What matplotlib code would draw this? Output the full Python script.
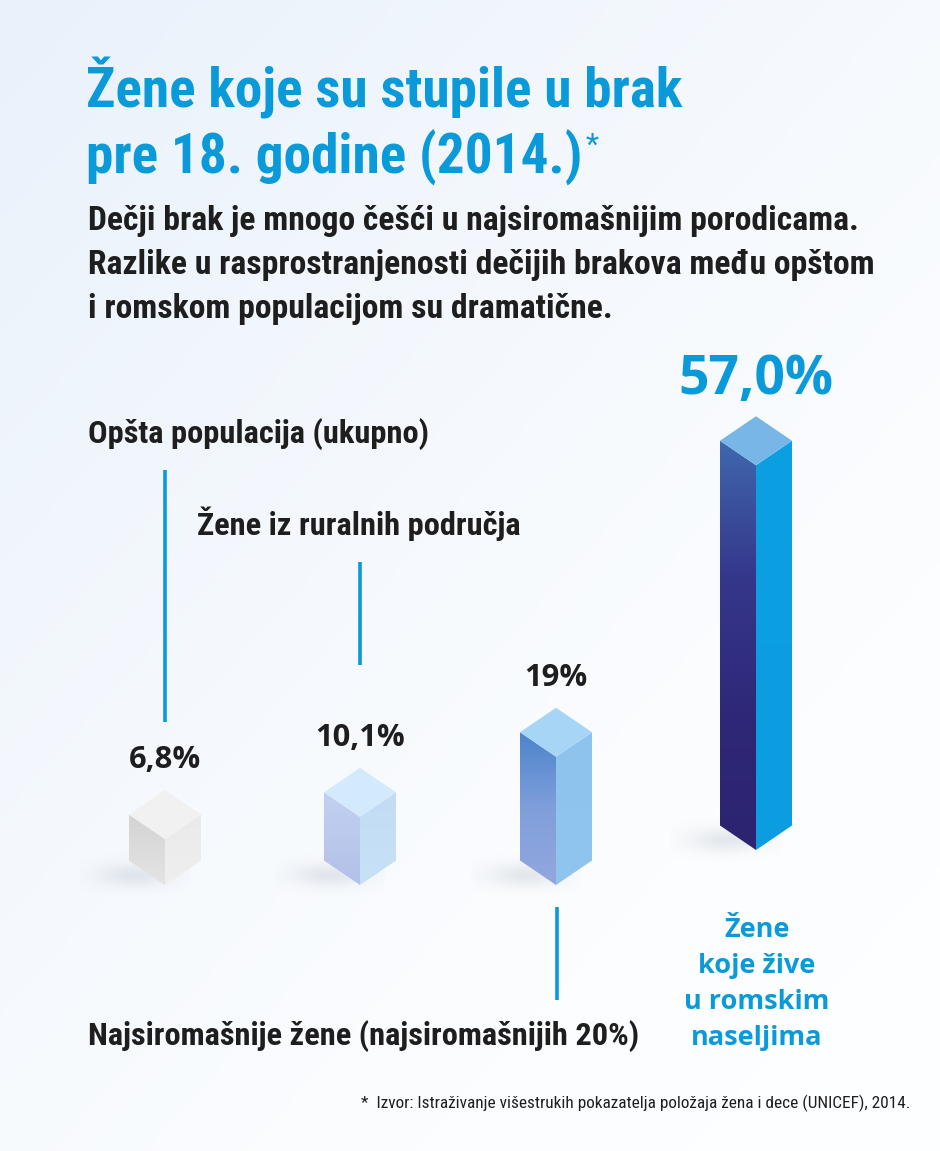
import numpy as np
import matplotlib
matplotlib.use("Agg")
import matplotlib.pyplot as plt
import matplotlib.patheffects as pe
from matplotlib import font_manager
from matplotlib.font_manager import FontProperties
from matplotlib.patches import Polygon
from matplotlib.colors import LinearSegmentedColormap, to_rgb

# data
categories = ["Opšta populacija (ukupno)", "Žene iz ruralnih područja",
              "Najsiromašnije žene (najsiromašnijih 20%)",
              "Žene\nkoje žive\nu romskim\nnaseljima"]
values = [6.8, 10.1, 19.0, 57.0]
value_labels = ["6,8%", "10,1%", "19%", "57,0%"]

title = ["Žene koje su stupile u brak", "pre 18. godine (2014.)"]
subtitle = ["Dečji brak je mnogo češći u najsiromašnijim porodicama.",
            "Razlike u rasprostranjenosti dečijih brakova među opštom",
            "i romskom populacijom su dramatične."]
source = "*  Izvor: Istraživanje višestrukih pokazatelja položaja žena i dece (UNICEF), 2014."

# layout / style
W, H = 940, 1151
BASE = 885          # pixel row of 0 %
S = 6.75            # pixels per percent
bar_x = [165, 360, 556, 756]
bar_lift = [0, 0, 0, 35]
half_w = 36
depth = 24.5
BLUE = "#0b9ad9"
DARK = "#1e1e1e"


def pick_condensed(weight):
    prefs = ["Open Sans", "Noto Sans", "Roboto Condensed", "Open Sans Condensed",
             "Noto Sans Display", "DejaVu Sans", "Liberation Sans Narrow"]
    cands = []
    for f in font_manager.fontManager.ttflist:
        st = str(f.stretch)
        nm = f.name
        if f.style != "normal" or "Italic" in f.fname:
            continue
        if any(k in nm for k in ("CJK", "Mono", "Serif")):
            continue
        if st in ("condensed", "semi-condensed") or "Condensed" in nm or "Narrow" in nm:
            cands.append(f)

    def key(f):
        p = prefs.index(f.name) if f.name in prefs else len(prefs)
        return (abs(int(f.weight) - weight), 0 if f.stretch == "condensed" else 1, p)

    if cands:
        cands.sort(key=key)
        f = cands[0]
        return FontProperties(fname=f.fname), int(f.weight)
    return FontProperties(family="DejaVu Sans", weight="bold"), 700


COND_B, wb = pick_condensed(700)
COND_R, wr = pick_condensed(400)
WIDE = FontProperties(family="Open Sans", weight="bold")


def embolden(px):
    # thicken strokes if no bold condensed face could be found
    if wb >= 600:
        return []
    return [pe.withStroke(linewidth=px, foreground="none")]


face_cols = [
    # left face stops (top->bottom), right face stops, top
    (["#d3d3d3", "#e4e4e4"], ["#eaeaea", "#efefef"], "#f1f1f1"),
    (["#c2d1f1", "#b3c0e8"], ["#c2dcf5", "#c7e1f7"], "#d2eafb"),
    (["#4d84cb", "#7f9fdb", "#93a7de"], ["#8ec3ee", "#90c5ef"], "#a7d5f5"),
    (["#3f68ae", "#35378b", "#2f2878", "#2c2470"], ["#0c9fe2", "#0b9de0"], "#78b6e7"),
]

fig = plt.figure(figsize=(W / 100, H / 100), dpi=100)
renderer = fig.canvas.get_renderer()


def fit(txt, target_w):
    w = txt.get_window_extent(renderer).width
    txt.set_fontsize(txt.get_fontsize() * target_w / w)
    return txt


def btext(axis, x, y, s, size, color, stroke, **kw):
    tx = axis.text(x, y, s, fontproperties=COND_B, fontsize=size, color=color, **kw)
    if wb < 600:
        tx.set_path_effects([pe.withStroke(linewidth=stroke, foreground=color)])
    return tx


# background
bg = fig.add_axes([0, 0, 1, 1])
bg.axis("off")
yy, xx = np.mgrid[0:H:4, 0:W:4]
t = np.clip((1 - xx / W) * 0.55 + (1 - yy / (H * 0.75)) * 0.45, 0, 1)
t = t ** 1.4
c0 = np.array(to_rgb("#fdfeff"))
c1 = np.array(to_rgb("#e9f1fb"))
img = c0[None, None, :] * (1 - t[..., None]) + c1[None, None, :] * t[..., None]
bg.imshow(img, extent=(0, W, H, 0), aspect="auto", zorder=0)
bg.set_xlim(0, W)
bg.set_ylim(H, 0)

# bars axes: y in percent
ax = fig.add_axes([0, 0, 1, 1])
ax.patch.set_alpha(0)
ax.axis("off")
ylo, yhi = (BASE - H) / S, BASE / S
d = depth / S


def grad_face(verts, stops):
    poly = Polygon(verts, closed=True, facecolor="none", edgecolor="none")
    ax.add_patch(poly)
    xs = [v[0] for v in verts]
    ys = [v[1] for v in verts]
    cmap = LinearSegmentedColormap.from_list("f", stops)
    grad = np.linspace(1, 0, 256)[:, None]
    im = ax.imshow(grad, cmap=cmap, vmin=0, vmax=1, aspect="auto",
                   extent=(min(xs), max(xs), min(ys), max(ys)), origin="lower",
                   interpolation="bilinear", zorder=3)
    im.set_clip_path(poly)


# soft shadows
sy, sx = np.mgrid[-1:1:60j, -1:1:120j]
for i, v in enumerate(values):
    b = bar_lift[i] / S
    g = np.exp(-(sx ** 2 * 2.2 + sy ** 2 * 4.0))
    sh = np.zeros(g.shape + (4,))
    sh[..., :3] = to_rgb("#8a93a6")
    sh[..., 3] = g * 0.2
    ax.imshow(sh, extent=(bar_x[i] - 85, bar_x[i] + 25, b - 14 / S, b + 34 / S),
              aspect="auto", zorder=2, interpolation="bilinear")

val_txt = []
for i, v in enumerate(values):
    cx = bar_x[i]
    B = bar_lift[i] / S
    T = B + v
    left, right, top = face_cols[i]
    grad_face([(cx - half_w, B + d), (cx, B), (cx, T), (cx - half_w, T + d)], left)
    grad_face([(cx, B), (cx + half_w, B + d), (cx + half_w, T + d), (cx, T)], right)
    ax.add_patch(Polygon([(cx, T), (cx + half_w, T + d), (cx, T + 2 * d),
                          (cx - half_w, T + d)], closed=True, facecolor=top,
                         edgecolor="none", zorder=4))
    last = i == len(values) - 1
    val_txt.append(ax.text(cx, T + 2 * d + 22 / S, value_labels[i], ha="center",
                           va="baseline", fontsize=18, fontproperties=WIDE,
                           color=BLUE if last else DARK, zorder=5))

ax.set_xlim(0, W)
ax.set_ylim(ylo, yhi)

fit(val_txt[0], 72)
for tx in val_txt[1:3]:
    tx.set_fontsize(val_txt[0].get_fontsize())
fit(val_txt[3], 155)

# title and subtitle
t1 = fit(btext(bg, 86, 107, title[0], 40, BLUE, 2.4, va="baseline", zorder=5), 595)
t2 = btext(bg, 86, 173, title[1], t1.get_fontsize(), BLUE, 2.4, va="baseline", zorder=5)
bg.annotate("*", xy=(1, 1), xycoords=t2, xytext=(2, -2), textcoords="offset points",
            fontproperties=COND_R, fontsize=t1.get_fontsize() * 0.55, color=BLUE,
            va="top", ha="left")
s1 = fit(btext(bg, 88, 230, subtitle[0], 19, DARK, 1.3, va="baseline", zorder=5), 771)
for k, line in enumerate(subtitle[1:], start=1):
    btext(bg, 88, 230 + 44 * k, line, s1.get_fontsize(), DARK, 1.3,
          va="baseline", zorder=5)

# category labels with leader lines
c0t = fit(btext(bg, 88, 443, categories[0], 20, DARK, 1.4, va="baseline"), 340)
bg.plot([165, 165], [470, 722], color=BLUE, lw=2.6, solid_capstyle="butt")
btext(bg, 197, 535, categories[1], c0t.get_fontsize(), DARK, 1.4, va="baseline")
bg.plot([360, 360], [562, 665], color=BLUE, lw=2.6, solid_capstyle="butt")
btext(bg, 88, 1045, categories[2], c0t.get_fontsize(), DARK, 1.4, va="baseline")
bg.plot([557, 557], [907, 1000], color=BLUE, lw=2.6, solid_capstyle="butt")

rl = categories[3].split("\n")
ref = fit(bg.text(757, 937 + 36 * 2, rl[2], fontproperties=WIDE, fontsize=19,
                  color=BLUE, ha="center", va="baseline"), 145)
for k, line in enumerate(rl):
    if k != 2:
        bg.text(757, 937 + 36 * k, line, fontproperties=WIDE, fontsize=ref.get_fontsize(),
                color=BLUE, ha="center", va="baseline")

fit(bg.text(910, 1108, source, fontproperties=COND_R, fontsize=11.5, color=DARK,
            ha="right", va="baseline"), 550)

fig.savefig("out.png", dpi=100)
